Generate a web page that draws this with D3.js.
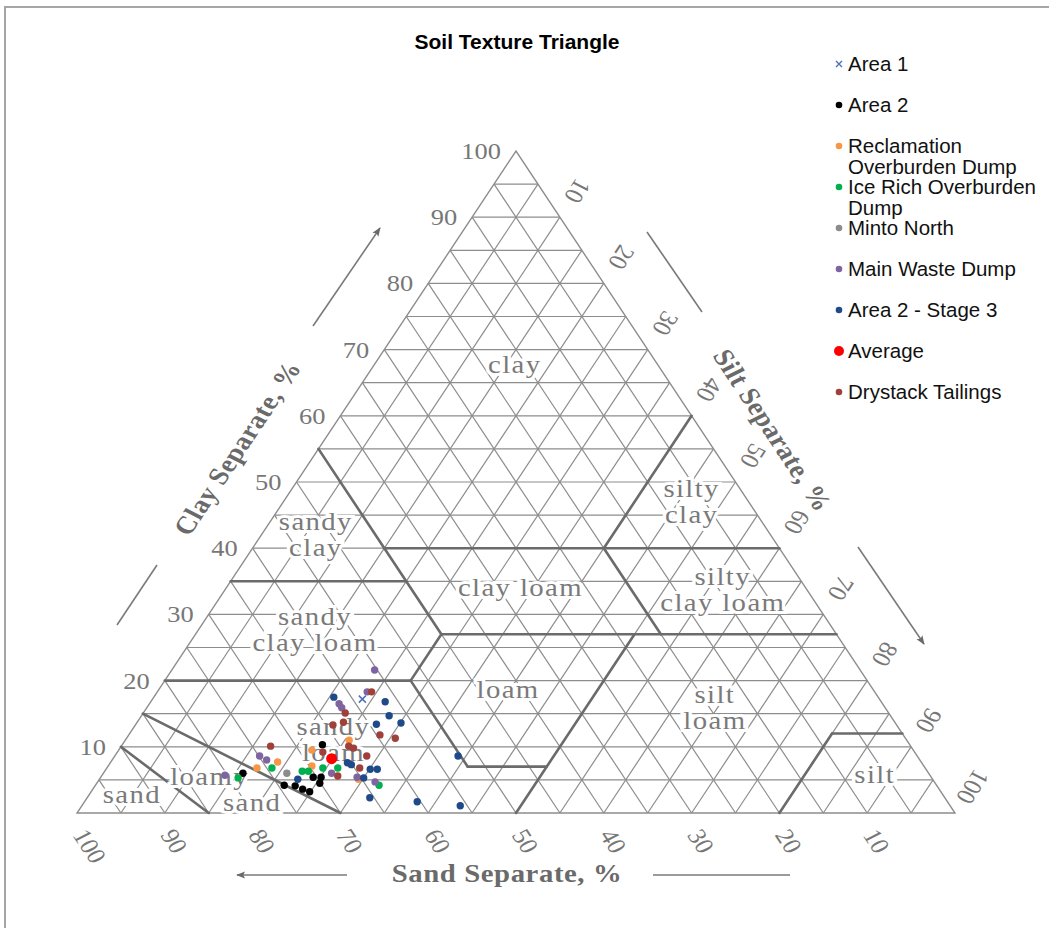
<!DOCTYPE html>
<html>
<head>
<meta charset="utf-8">
<script src="https://cdn.jsdelivr.net/npm/d3@7"></script>
<style>
  body { margin: 0; background: #fff; }
  svg { display: block; }
</style>
</head>
<body>
<svg id="chart" width="1049" height="928"></svg>
<script>
const titleText = "Soil Texture Triangle";

// ---- data: each sample is [sand %, clay %]; silt is the remainder ----
const area1 = [[58.9, 17.2]];
const area2 = [
  [78.1, 6.0], [74.3, 4.2], [73.1, 4.1], [72.5, 3.6], [71.9, 3.2],
  [70.4, 5.4], [69.5, 5.4], [70.1, 4.5], [66.9, 10.3]
];
const reclamationDump = [
  [76.1, 6.8], [73.3, 7.7], [68.5, 9.5], [63.5, 11.0], [69.7, 7.1], [65.4, 5.1]
];
const iceRichDump = [
  [79.0, 5.3], [74.4, 6.8], [71.2, 6.3], [70.5, 6.3], [68.6, 6.8], [66.9, 6.8], [63.5, 4.2]
];
const mintoNorth = [[73.1, 6.0]];
const mainWasteDump = [
  [55.3, 21.6], [57.8, 18.3], [61.9, 16.5], [61.9, 15.9], [74.9, 8.6],
  [74.4, 8.0], [80.3, 5.7], [68.0, 6.0], [65.4, 5.4], [63.7, 4.7]
];
const area2Stage3 = [
  [62.0, 17.5], [56.5, 16.8], [57.1, 14.7], [56.3, 13.6], [59.2, 13.4],
  [52.3, 8.6], [65.4, 7.6], [65.1, 7.3], [63.3, 6.6], [62.5, 6.6],
  [64.7, 5.3], [72.3, 5.1], [65.5, 2.3], [60.4, 1.7], [55.8, 1.1]
];
const average = [[66.9, 8.2]];
const drystackTailings = [
  [57.3, 18.3], [61.9, 15.1], [62.8, 13.7], [64.2, 13.3], [59.6, 11.8],
  [58.1, 11.3], [72.9, 10.1], [64.0, 10.1], [63.6, 9.8], [67.4, 9.2],
  [62.7, 8.6], [64.4, 6.8], [67.5, 5.6]
];

const seriesNames = [
  "Area 1", "Area 2", "Reclamation Overburden Dump", "Ice Rich Overburden Dump",
  "Minto North", "Main Waste Dump", "Area 2 - Stage 3", "Average", "Drystack Tailings"
];
const legendLines = [
  ["Area 1"], ["Area 2"], ["Reclamation", "Overburden Dump"], ["Ice Rich Overburden", "Dump"],
  ["Minto North"], ["Main Waste Dump"], ["Area 2 - Stage 3"], ["Average"], ["Drystack Tailings"]
];
const seriesValues = [
  area1, area2, reclamationDump, iceRichDump, mintoNorth,
  mainWasteDump, area2Stage3, average, drystackTailings
];

const tickValues = [10, 20, 30, 40, 50, 60, 70, 80, 90, 100];

// USDA texture class boundaries, endpoints as [sand, silt, clay]
const classBoundaries = [
  [[45, 0, 55], [45, 28, 27]],
  [[45, 15, 40], [0, 60, 40]],
  [[20, 40, 40], [0, 40, 60]],
  [[65, 0, 35], [45, 20, 35]],
  [[20, 40, 40], [20, 53, 27]],
  [[45, 28, 27], [0, 73, 27]],
  [[80, 0, 20], [52, 28, 20]],
  [[52, 28, 20], [45, 28, 27]],
  [[52, 28, 20], [52, 41, 7]],
  [[52, 41, 7], [43, 50, 7]],
  [[23, 50, 27], [50, 50, 0]],
  [[8, 80, 12], [0, 88, 12]],
  [[8, 80, 12], [20, 80, 0]],
  [[85, 15, 0], [90, 0, 10]],
  [[70, 30, 0], [85, 0, 15]]
];

// texture class names, centred at [sand, clay]
const classNames = [
  { lines: ["clay"], at: [16.3, 67.7] },
  { lines: ["sandy", "clay"], at: [51.8, 42.0] },
  { lines: ["sandy", "clay loam"], at: [59.1, 27.6] },
  { lines: ["silty", "clay"], at: [6.5, 47.0] },
  { lines: ["silty", "clay loam"], at: [9.6, 33.7] },
  { lines: ["clay loam"], at: [32.5, 34.0] },
  { lines: ["loam"], at: [41.6, 18.6] },
  { lines: ["silt", "loam"], at: [19.4, 15.9] },
  { lines: ["sandy", "loam"], at: [65.3, 11.0] },
  { lines: ["loamy"], at: [82.2, 5.4] },
  { lines: ["sand"], at: [79.3, 1.5] },
  { lines: ["sand"], at: [92.4, 2.7] },
  { lines: ["silt"], at: [6.3, 5.7] }
];

// ---- drawing ----
const svg = d3.select("#chart");
const seriesColors = ["#4a72b8", "#000000", "#f79646", "#00b050", "#8c8c8c",
                      "#8064a2", "#1f4a8a", "#ff0000", "#a0403b"];

// position along the base is silt + clay/2; height is clay
const xPos = d3.scaleLinear().domain([0, 100]).range([77, 955]);
const yPos = d3.scaleLinear().domain([0, 100]).range([813, 151]);
const project = (sand, silt, clay) => [xPos(silt + clay / 2), yPos(clay)];
const projectSC = (sand, clay) => project(sand, 100 - sand - clay, clay);

const STRETCH = 1.15;
const serif = "'Liberation Serif', 'DejaVu Serif', serif";
const sans = "'Liberation Sans', Arial, sans-serif";

// outer frame
svg.append("rect")
  .attr("x", 5).attr("y", 7).attr("width", 1100).attr("height", 1000)
  .attr("fill", "none").attr("stroke", "#a6a6a6").attr("stroke-width", 2);

// title
svg.append("text")
  .attr("x", 517).attr("y", 49)
  .attr("text-anchor", "middle")
  .attr("font-family", sans).attr("font-weight", "bold").attr("font-size", 21)
  .attr("fill", "#000")
  .text(titleText);

// grid every 5 %
const gridStep = d3.range(5, 100, 5);
const grid = svg.append("g").attr("stroke", "#8d8d8d").attr("stroke-width", 1.2).attr("fill", "none");
const seg = (g, a, b) => {
  const p = project(...a), q = project(...b);
  g.append("line").attr("x1", p[0]).attr("y1", p[1]).attr("x2", q[0]).attr("y2", q[1]);
};
gridStep.forEach(v => {
  seg(grid, [100 - v, 0, v], [0, 100 - v, v]);     // constant clay
  seg(grid, [v, 100 - v, 0], [v, 0, 100 - v]);     // constant sand
  seg(grid, [100 - v, v, 0], [0, v, 100 - v]);     // constant silt
});
grid.append("path")
  .attr("stroke-width", 1.4)
  .attr("d", d3.line()([project(100, 0, 0), project(0, 100, 0), project(0, 0, 100)]) + "Z");

// texture class boundaries
const bounds = svg.append("g").attr("stroke", "#6b6b6b").attr("stroke-width", 2.6)
  .attr("stroke-linecap", "round");
classBoundaries.forEach(([a, b]) => seg(bounds, a, b));

// class names
const names = svg.append("g")
  .attr("font-family", serif).attr("font-size", 25).attr("fill", "#7a7a7a")
  .attr("letter-spacing", 1.2)
  .attr("stroke", "#fff").attr("stroke-width", 6).attr("paint-order", "stroke")
  .attr("text-anchor", "middle");
classNames.forEach(c => {
  const [x, y] = projectSC(c.at[0], c.at[1]);
  const lh = 26;
  c.lines.forEach((ln, i) => {
    const dy = (i - (c.lines.length - 1) / 2) * lh;
    names.append("text")
      .attr("transform", `translate(${x},${y + dy}) scale(${STRETCH},1)`)
      .attr("dy", "0.32em")
      .text(ln);
  });
});

// tick labels
const ticks = svg.append("g").attr("font-family", serif).attr("font-size", 23).attr("fill", "#777");
tickValues.forEach(v => {
  // clay, along the left edge
  const c = project(100 - v, 0, v);
  ticks.append("text")
    .attr("transform", `translate(${c[0] - 15},${c[1]}) scale(${STRETCH},1)`)
    .attr("text-anchor", "end").attr("dy", "0.35em")
    .text(v);
  // sand, along the base
  const s = project(v, 100 - v, 0);
  ticks.append("text")
    .attr("transform", `translate(${s[0] + 3},${s[1] + 18}) scale(${STRETCH},1) rotate(60)`)
    .attr("text-anchor", "start").attr("dy", "0.35em")
    .text(v);
  // silt, along the right edge
  const t = project(0, v, 100 - v);
  ticks.append("text")
    .attr("transform", `translate(${t[0] + 18},${t[1] - 26}) scale(${STRETCH},1) rotate(120)`)
    .attr("text-anchor", "middle").attr("dy", "0.35em")
    .text(v);
});

// axis titles
const axisTitle = (x, y, angle, label) => svg.append("text")
  .attr("transform", `translate(${x},${y}) scale(${STRETCH},1) rotate(${angle})`)
  .attr("text-anchor", "middle").attr("dy", "0.35em")
  .attr("font-family", serif).attr("font-weight", "bold").attr("font-size", 25)
  .attr("letter-spacing", 0.5)
  .attr("fill", "#6a6a6a")
  .text(label);
axisTitle(237, 448, -60, "Clay Separate, %");
axisTitle(773, 430, 60, "Silt Separate, %");
axisTitle(507, 873, 0, "Sand Separate, %");

// direction arrows
svg.append("defs").append("marker")
  .attr("id", "head").attr("viewBox", "0 0 10 10").attr("refX", 9).attr("refY", 5)
  .attr("markerWidth", 9).attr("markerHeight", 9).attr("markerUnits", "userSpaceOnUse")
  .attr("orient", "auto")
  .append("path").attr("d", "M0,1 L10,5 L0,9 L2,5 Z").attr("fill", "#6a6a6a");
const arrows = svg.append("g").attr("stroke", "#7a7a7a").attr("stroke-width", 1.6);
const arrow = (x1, y1, x2, y2, head) => arrows.append("line")
  .attr("x1", x1).attr("y1", y1).attr("x2", x2).attr("y2", y2)
  .attr("marker-end", head ? "url(#head)" : null);
arrow(117, 625, 157, 565, false);
arrow(313, 326, 380, 228, true);
arrow(647, 232, 702, 312, false);
arrow(858, 547, 924, 644, true);
arrow(347, 875, 237, 875, true);
arrow(653, 875, 790, 875, false);

// sample points
const pts = svg.append("g");
seriesValues.forEach((vals, i) => {
  const color = seriesColors[i];
  vals.forEach(([sand, clay]) => {
    const [x, y] = projectSC(sand, clay);
    if (i === 0) {
      pts.append("path")
        .attr("transform", `translate(${x},${y})`)
        .attr("d", "M-3.5,-3.5L3.5,3.5M-3.5,3.5L3.5,-3.5")
        .attr("stroke", color).attr("stroke-width", 1.5).attr("fill", "none");
    } else {
      pts.append("circle")
        .attr("cx", x).attr("cy", y)
        .attr("r", seriesNames[i] === "Average" ? 5.5 : 3.7)
        .attr("fill", color);
    }
  });
});

// legend
const legend = svg.append("g").attr("font-family", sans).attr("font-size", 20.5).attr("fill", "#111");
legendLines.forEach((lines, i) => {
  const y = 64 + i * 41;
  const color = seriesColors[i];
  if (i === 0) {
    legend.append("path")
      .attr("transform", `translate(839,${y})`)
      .attr("d", "M-3,-3L3,3M-3,3L3,-3")
      .attr("stroke", color).attr("stroke-width", 1.4).attr("fill", "none");
  } else {
    legend.append("circle").attr("cx", 839).attr("cy", y)
      .attr("r", seriesNames[i] === "Average" ? 5 : 3.3).attr("fill", color);
  }
  lines.forEach((ln, j) => {
    legend.append("text").attr("x", 848).attr("y", y + j * 21).attr("dy", "0.35em").text(ln);
  });
});
</script>
</body>
</html>
